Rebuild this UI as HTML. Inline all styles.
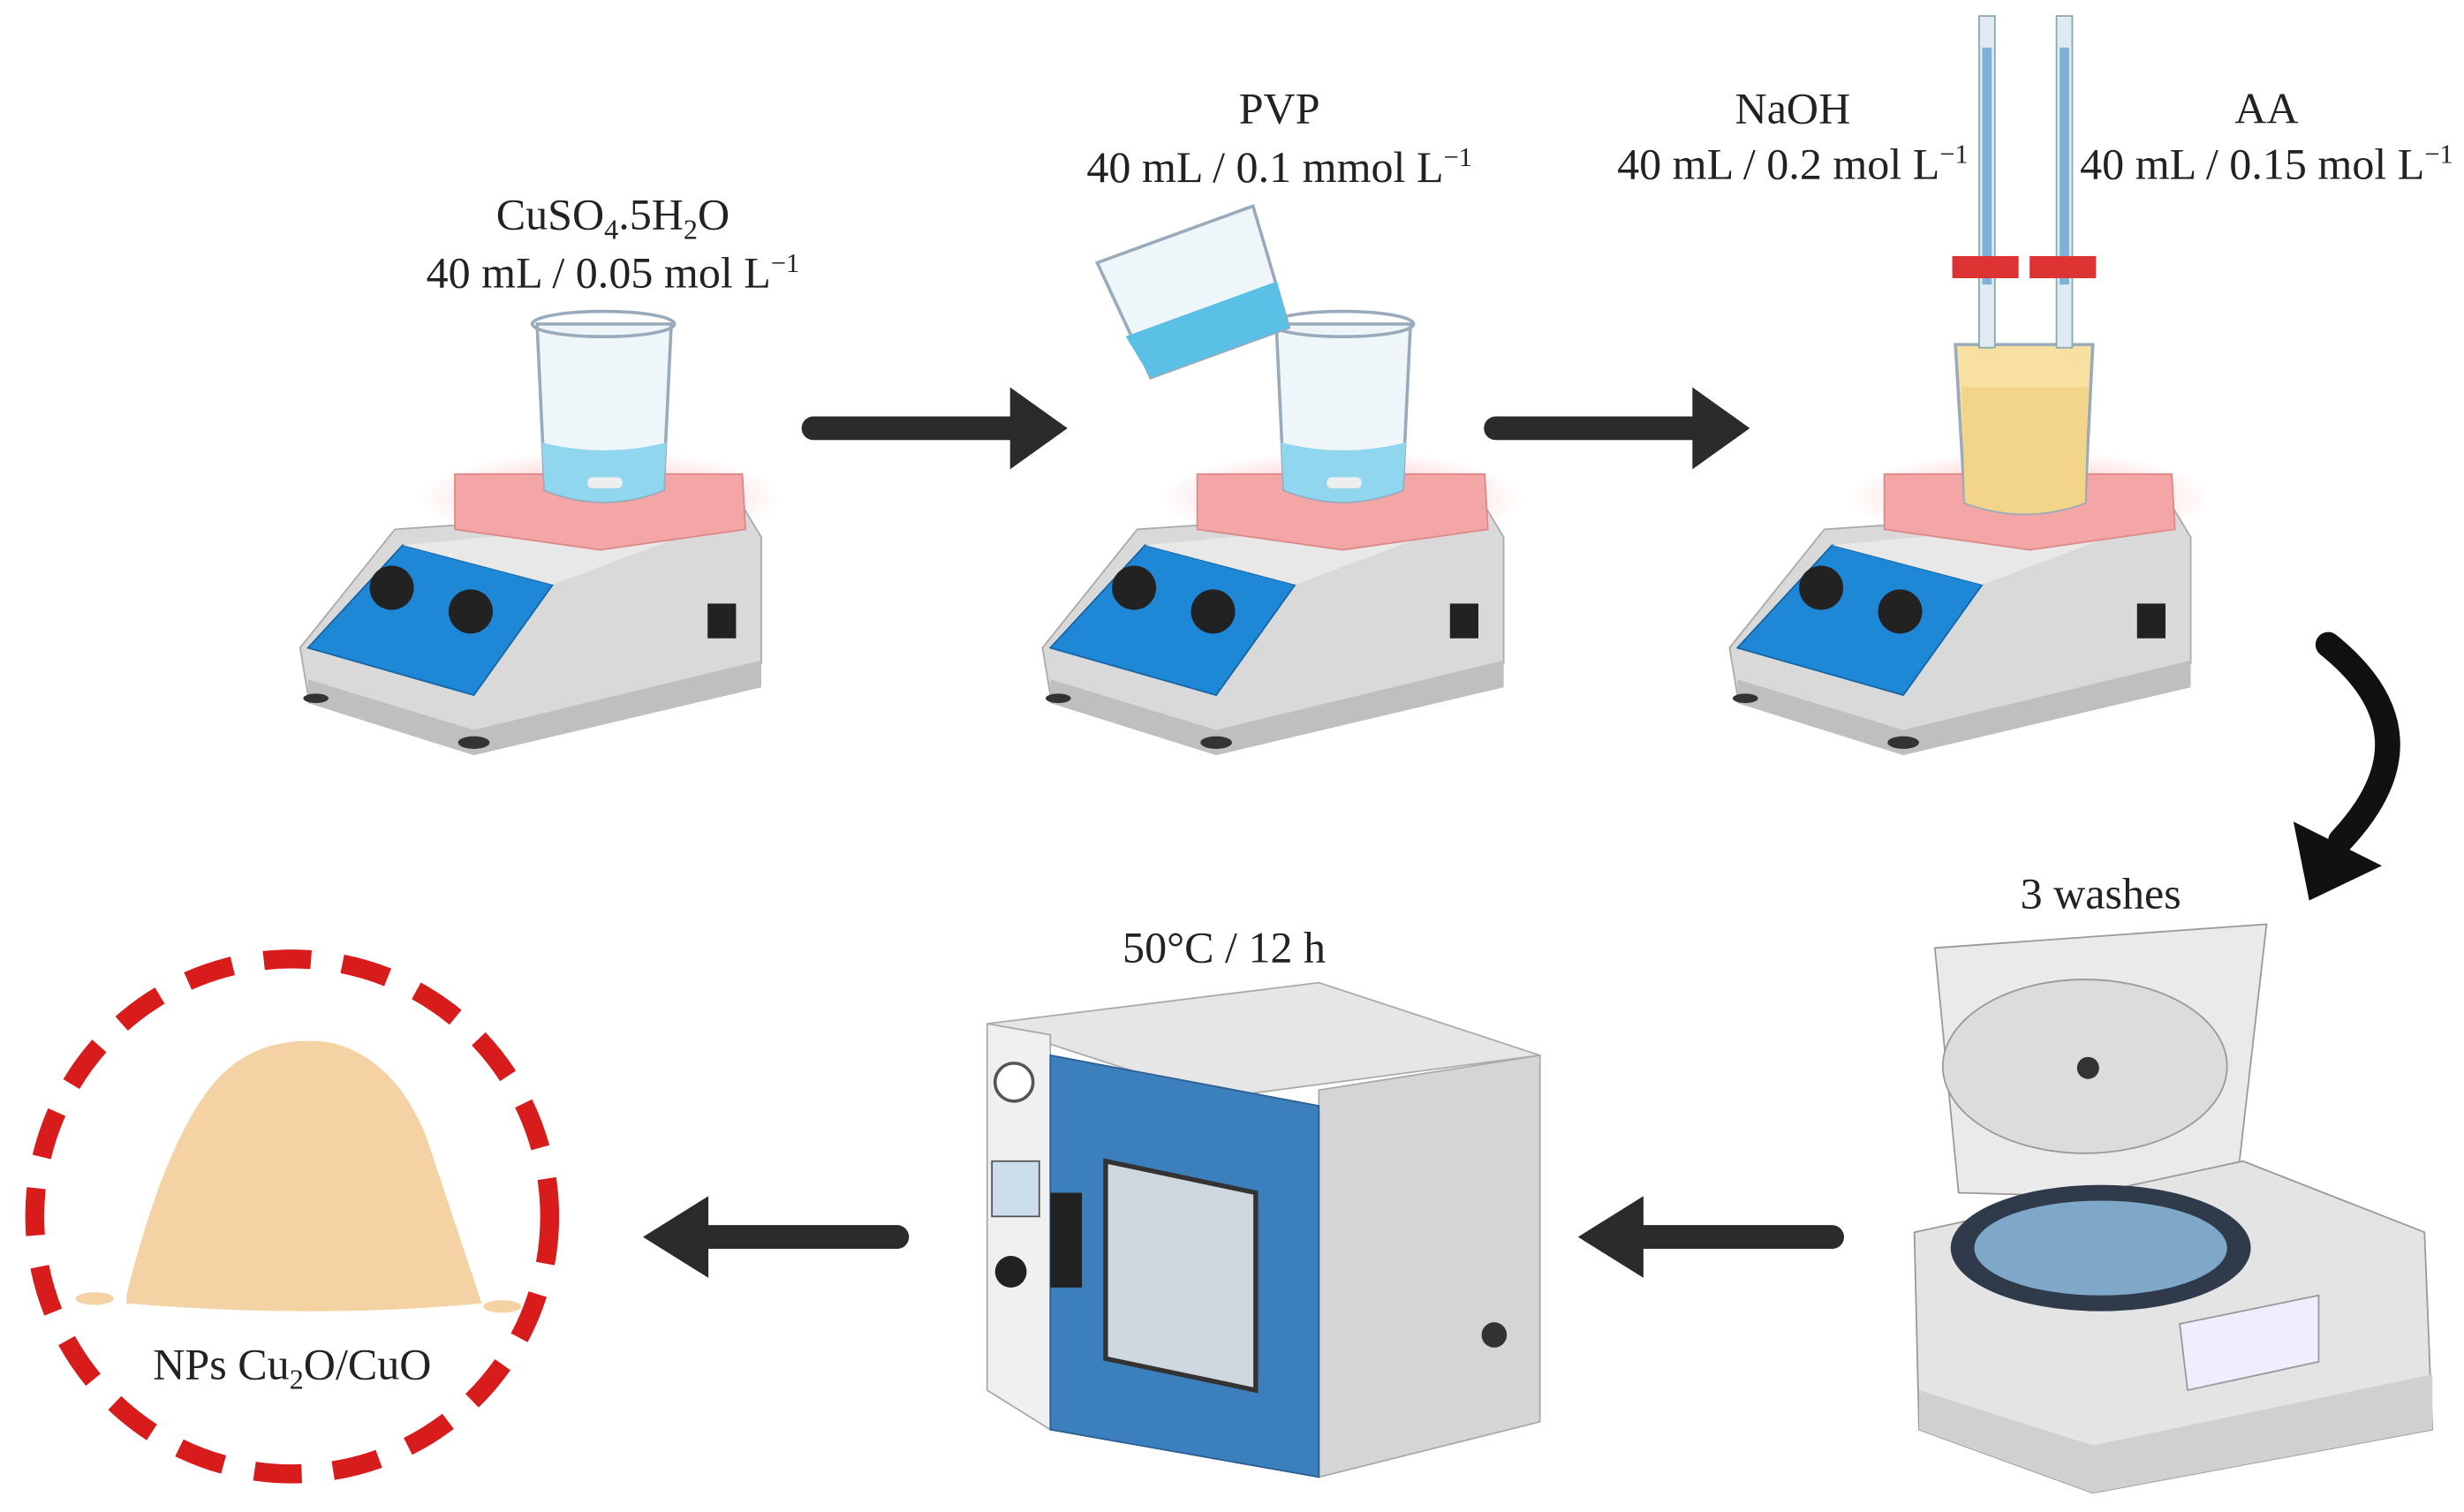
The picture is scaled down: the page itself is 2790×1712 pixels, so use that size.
<!DOCTYPE html>
<html><head><meta charset="utf-8"><style>
html,body{margin:0;padding:0;background:#fff;}
svg{display:block;}
text{font-family:"Liberation Serif",serif;fill:#222;}
</style></head><body>
<svg width="2790" height="1712" viewBox="0 0 1560 957" xmlns="http://www.w3.org/2000/svg">
<defs>
<radialGradient id="glow" cx="50%" cy="50%" r="50%"><stop offset="0" stop-color="#ff8080" stop-opacity=".6"/><stop offset="1" stop-color="#ff8080" stop-opacity="0"/></radialGradient>
<g id="hp">
 <ellipse cx="380" cy="315" rx="115" ry="30" fill="url(#glow)"/>
 <path d="M190 410 L250 335 L470 320 L482 340 L482 420 L300 470 L195 440 Z" fill="#d9d9d9" stroke="#aaa"/>
 <path d="M195 430 L300 462 L482 418 L482 435 L300 478 L195 445 Z" fill="#bfbfbf"/>
 <path d="M195 410 L255 345 L350 370 L300 440 Z" fill="#1e88d6" stroke="#1565a6"/>
 <path d="M255 345 L470 325 L350 370 Z" fill="#e8e8e8"/>
 <circle cx="248" cy="372" r="14" fill="#222"/><circle cx="298" cy="387" r="14" fill="#222"/>
 <path d="M288 300 L470 300 L472 335 L380 348 L288 335 Z" fill="#f4a6a6" stroke="#d88"/>
 <rect x="448" y="382" width="18" height="22" fill="#222"/>
 <ellipse cx="300" cy="470" rx="10" ry="4" fill="#333"/><ellipse cx="200" cy="442" rx="8" ry="3" fill="#333"/>
</g>
<g id="bk">
 <path d="M340 205 L425 205 L420 310 Q382 325 345 310 Z" fill="#eef6fa" stroke="#9ab" stroke-width="2"/>
 <ellipse cx="382" cy="205" rx="45" ry="8" fill="none" stroke="#9ab" stroke-width="2"/>
 <path d="M343 280 Q382 290 422 280 L420 310 Q382 325 345 310 Z" fill="#8fd6ee"/>
 <rect x="372" y="302" width="22" height="7" rx="3" fill="#eee"/>
</g>
</defs>

<use href="#hp"/>
<use href="#bk"/>
<use href="#hp" x="470"/>
<use href="#bk" x="468"/>
<use href="#hp" x="905"/>
<g transform="rotate(-20 760 185)">
 <path d="M705 145 L810 145 L805 225 L712 225 Z" fill="#eef6fa" stroke="#9ab" stroke-width="2"/>
 <path d="M706 195 L808 195 L805 225 L712 225 Z" fill="#5bc0e6"/>
</g>
<path d="M1238 218 L1325 218 L1320 318 Q1282 332 1244 318 Z" fill="#f7e0a0" stroke="#9ab" stroke-width="2"/>
<path d="M1242 245 L1322 245 L1320 318 Q1282 332 1244 318 Z" fill="#f2d588"/>
<rect x="1253" y="10" width="10" height="210" fill="#dfeaf2" stroke="#8aa"/>
<rect x="1255" y="30" width="6" height="150" fill="#7fb0d8"/>
<rect x="1302" y="10" width="10" height="210" fill="#dfeaf2" stroke="#8aa"/>
<rect x="1304" y="30" width="6" height="150" fill="#7fb0d8"/>
<rect x="1236" y="162" width="42" height="14" fill="#d33"/><rect x="1285" y="162" width="42" height="14" fill="#d33"/>

<text x="388" y="145" font-size="28" text-anchor="middle">CuSO<tspan font-size="18" dy="6">4</tspan><tspan dy="-6">.5H</tspan><tspan font-size="18" dy="6">2</tspan><tspan dy="-6">O</tspan></text>
<text x="388" y="182" font-size="28" text-anchor="middle">40 mL / 0.05 mol L<tspan font-size="17" dy="-10">−1</tspan></text>
<text x="810" y="78" font-size="28" text-anchor="middle">PVP</text>
<text x="810" y="115" font-size="28" text-anchor="middle">40 mL / 0.1 mmol L<tspan font-size="17" dy="-10">−1</tspan></text>
<text x="1135" y="78" font-size="28" text-anchor="middle">NaOH</text>
<text x="1135" y="113" font-size="28" text-anchor="middle">40 mL / 0.2 mol L<tspan font-size="17" dy="-10">−1</tspan></text>
<text x="1435" y="78" font-size="28" text-anchor="middle">AA</text>
<text x="1435" y="113" font-size="28" text-anchor="middle">40 mL / 0.15 mol L<tspan font-size="17" dy="-10">−1</tspan></text>
<text x="1330" y="575" font-size="28" text-anchor="middle">3 washes</text>
<text x="775" y="609" font-size="28" text-anchor="middle">50°C / 12 h</text>
<text x="185" y="873" font-size="28" text-anchor="middle">NPs Cu<tspan font-size="18" dy="6">2</tspan><tspan dy="-6">O/CuO</tspan></text>

<g fill="#2b2b2b" stroke="#2b2b2b">
 <line x1="515" y1="271" x2="645" y2="271" stroke-width="15" stroke-linecap="round"/>
 <path d="M640 246 L675 271 L640 296 Z"/>
 <line x1="947" y1="271" x2="1077" y2="271" stroke-width="15" stroke-linecap="round"/>
 <path d="M1072 246 L1107 271 L1072 296 Z"/>
 <line x1="1160" y1="783" x2="1035" y2="783" stroke-width="15" stroke-linecap="round"/>
 <path d="M1040 758 L1000 783 L1040 808 Z"/>
 <line x1="568" y1="783" x2="445" y2="783" stroke-width="15" stroke-linecap="round"/>
 <path d="M448 758 L408 783 L448 808 Z"/>
</g>
<path d="M1474 408 Q1545 465 1482 532" fill="none" stroke="#111" stroke-width="16" stroke-linecap="round"/>
<path d="M1452 520 L1462 570 L1508 548 Z" fill="#111"/>

<circle cx="185" cy="770" r="163" fill="none" stroke="#d81c1c" stroke-width="12" stroke-dasharray="30 20"/>
<path d="M80 820 Q110 700 150 672 Q175 655 210 660 Q250 670 270 720 Q290 780 305 825 Q200 835 80 825 Z" fill="#f5d2a3"/>
<ellipse cx="60" cy="822" rx="12" ry="4" fill="#f5d2a3"/><ellipse cx="318" cy="827" rx="12" ry="4" fill="#f5d2a3"/>

<path d="M625 648 L835 622 L975 668 L770 695 Z" fill="#e6e6e6" stroke="#aaa"/>
<path d="M835 690 L975 668 L975 900 L835 935 Z" fill="#d5d5d5" stroke="#aaa"/>
<path d="M625 648 L665 655 L665 905 L625 880 Z" fill="#f0f0f0" stroke="#aaa"/>
<path d="M665 668 L835 700 L835 935 L665 905 Z" fill="#3b80bd" stroke="#2a5f90"/>
<path d="M700 735 L795 755 L795 880 L700 860 Z" fill="#cfd8df" stroke="#333" stroke-width="3"/>
<rect x="665" y="755" width="20" height="60" fill="#222"/>
<circle cx="642" cy="685" r="12" fill="#fff" stroke="#555" stroke-width="2"/>
<rect x="628" y="735" width="30" height="35" fill="#cde" stroke="#555"/>
<circle cx="640" cy="805" r="10" fill="#222"/>
<circle cx="946" cy="845" r="8" fill="#333"/>

<path d="M1225 600 L1435 585 L1415 760 L1240 755 Z" fill="#eaeaea" stroke="#999"/>
<ellipse cx="1320" cy="675" rx="90" ry="55" fill="#dcdcdc" stroke="#999"/>
<circle cx="1322" cy="676" r="7" fill="#333"/>
<path d="M1212 780 L1420 735 L1535 780 L1540 905 L1325 945 L1215 905 Z" fill="#e4e4e4" stroke="#999"/>
<ellipse cx="1330" cy="790" rx="95" ry="40" fill="#2f3b4a"/>
<ellipse cx="1330" cy="790" rx="80" ry="30" fill="#7fa8c8"/>
<path d="M1380 838 L1468 820 L1468 862 L1385 880 Z" fill="#eef" stroke="#999"/>
<path d="M1215 880 L1325 915 L1540 870 L1540 905 L1325 945 L1215 905 Z" fill="#d0d0d0"/>
</svg>
</body></html>
